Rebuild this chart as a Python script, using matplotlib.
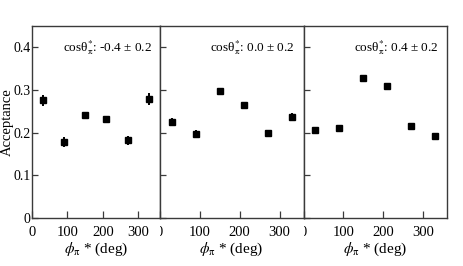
import matplotlib
matplotlib.use("Agg")
import matplotlib.pyplot as plt
from matplotlib.transforms import Bbox, TransformedBbox

plt.rcParams['font.family'] = ['Liberation Serif', 'DejaVu Serif']
plt.rcParams['mathtext.fontset'] = 'stix'

phi = [30, 90, 150, 210, 270, 330]
acc_m04 = [0.276, 0.178, 0.242, 0.232, 0.182, 0.279]
err_m04 = [0.013, 0.011, 0.007, 0.006, 0.010, 0.013]
acc_00 = [0.225, 0.198, 0.297, 0.266, 0.199, 0.237]
err_00 = [0.010, 0.008, 0.007, 0.006, 0.007, 0.010]
acc_04 = [0.206, 0.210, 0.328, 0.310, 0.215, 0.192]
err_04 = [0.007, 0.007, 0.006, 0.006, 0.007, 0.007]
labels = ['cosθ$^{*}_{\\mathrm{\\pi}}$: -0.4 ± 0.2',
          'cosθ$^{*}_{\\mathrm{\\pi}}$: 0.0 ± 0.2',
          'cosθ$^{*}_{\\mathrm{\\pi}}$: 0.4 ± 0.2']
xticks = [0, 100, 200, 300]
yticks = [0, 0.1, 0.2, 0.3, 0.4]
ytick_labels = ['0', '0.1', '0.2', '0.3', '0.4']

W, H = 463, 266
fig = plt.figure(figsize=(W / 100, H / 100), dpi=100)

bottom_px, top_px = 218, 26
edges = [32, 159.5, 303.5, 447]
series = [(acc_m04, err_m04), (acc_00, err_00), (acc_04, err_04)]
frame_col = '#3a3a3a'
fs = 10.5

for i in range(3):
    l, r = edges[i], edges[i + 1]
    ax = fig.add_axes([l / W, (H - bottom_px) / H, (r - l) / W, (bottom_px - top_px) / H])
    vals, errs = series[i]
    ax.errorbar(phi, vals, yerr=errs, fmt='s', color='black', ms=4.5,
                elinewidth=1.4, capsize=0)
    ax.set_xlim(0, 360)
    ax.set_ylim(0, 0.45)
    for s in ax.spines.values():
        s.set_color(frame_col)
        s.set_linewidth(1.0)
    ax.tick_params(direction='in', length=4, width=0.9, color=frame_col,
                   labelsize=fs, pad=1)
    ax.tick_params(axis='y', labelsize=10)
    ax.tick_params(axis='x', length=5, pad=6)
    ax.set_yticks(yticks)
    if i == 0:
        ax.set_yticklabels(ytick_labels)
        ax.set_xticks(xticks)
        ax.set_xticklabels([str(v) for v in xticks])
    else:
        ax.set_yticklabels([])
        ax.set_xticks(xticks)
        ax.set_xticklabels([''] + [str(v) for v in xticks[1:]])
        # clipped "0" label at panel's left edge
        t = fig.text(l / W, (H - 233) / H, '0', ha='center', va='center', fontsize=fs)
        clip = TransformedBbox(Bbox.from_extents(l / W, 0, (l + 12) / W, (H - bottom_px) / H),
                               fig.transFigure)
        t.set_clip_box(clip)
        t.set_clip_on(True)
    ax.set_xlabel('$\\phi_{\\mathrm{\\pi}}$ * (deg)', fontsize=11, labelpad=1)
    ax.text(0.94, 0.885, labels[i], transform=ax.transAxes, ha='right', va='center',
            fontsize=9.5)

fig.text(7 / W, (H - 122) / H, 'Acceptance', rotation=90, ha='center', va='center',
         fontsize=10.5)

fig.savefig('out.png', dpi=100)
